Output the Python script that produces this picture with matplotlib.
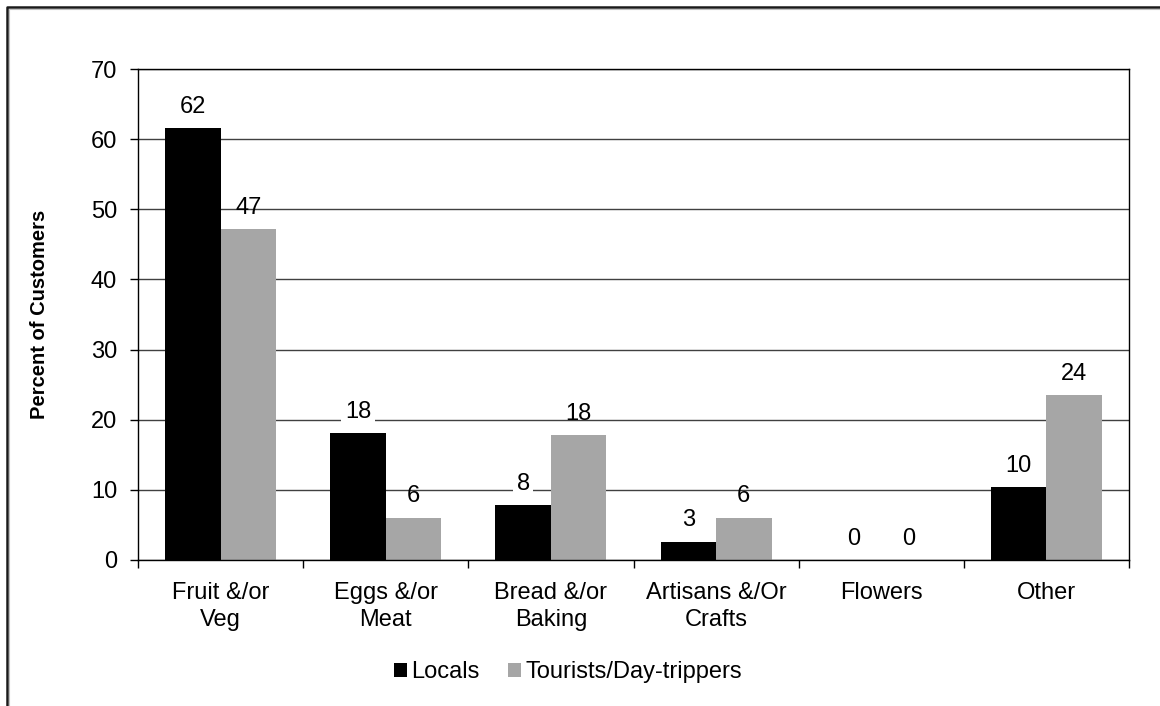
# 농산물 시장 고객 구매 품목 막대그래프 (Locals vs Tourists)
import numpy as np
import matplotlib
matplotlib.use('Agg')
import matplotlib.pyplot as plt
from matplotlib.lines import Line2D
from matplotlib.patches import Patch

plt.rcParams['font.family'] = ['Liberation Sans', 'DejaVu Sans']

# 데이터
categories = ['Fruit &/or\nVeg', 'Eggs &/or\nMeat', 'Bread &/or\nBaking',
              'Artisans &/Or\nCrafts', 'Flowers', 'Other']
locals_vals = [61.6, 18.1, 7.8, 2.6, 0.0, 10.4]
tourists_vals = [47.2, 6.0, 17.8, 6.0, 0.0, 23.5]
series_names = ['Locals', 'Tourists/Day-trippers']
y_ticks = [0, 10, 20, 30, 40, 50, 60, 70]

c_locals = '#000000'
c_tourists = '#A6A6A6'
fs = 17

fig = plt.figure(figsize=(11.6, 7.06), dpi=100)
ax = fig.add_axes([138 / 1160, 1 - 560 / 706, (1129 - 138) / 1160, (560 - 69) / 706])

x = np.arange(len(categories))
w = 0.336
ax.bar(x - w / 2, locals_vals, w, color=c_locals, zorder=2)
ax.bar(x + w / 2, tourists_vals, w, color=c_tourists, zorder=2)

# 데이터 라벨 (Locals 는 흰 배경)
for xi, v in zip(x, locals_vals):
    ax.annotate(str(int(v + 0.5)), xy=(xi - w / 2, v), xytext=(0, 7.5),
                textcoords='offset points', ha='center', va='bottom',
                fontsize=fs, zorder=5,
                bbox=dict(facecolor='white', edgecolor='none', boxstyle='square,pad=0.15'))
for xi, v in zip(x, tourists_vals):
    ax.annotate(str(int(v + 0.5)), xy=(xi + w / 2, v), xytext=(0, 7.5),
                textcoords='offset points', ha='center', va='bottom',
                fontsize=fs, zorder=5)

ax.set_xlim(-0.5, len(categories) - 0.5)
ax.set_ylim(0, 70)
ax.set_yticks(y_ticks)
ax.set_yticklabels([str(t) for t in y_ticks], fontsize=fs)
ax.tick_params(axis='y', length=6, width=1, pad=9, direction='out')

# x 축: 경계에 눈금, 가운데에 라벨
ax.set_xticks(np.arange(len(categories) + 1) - 0.5)
ax.set_xticklabels([])
ax.tick_params(axis='x', which='major', length=6, width=1, direction='out')
ax.set_xticks(x, minor=True)
ax.set_xticklabels(categories, minor=True, fontsize=fs, linespacing=1.3)
ax.tick_params(axis='x', which='minor', length=0, pad=16)

ax.yaxis.grid(True, color='#404040', linewidth=1)
ax.set_axisbelow(True)
for s in ax.spines.values():
    s.set_color('#000000')
    s.set_linewidth(1)

fig.text(40 / 1160, 0.5 * ((1 - 560 / 706) + (1 - 69 / 706)), 'Percent of Customers',
         rotation=90, ha='center', va='center', fontsize=14.5, fontweight='bold')

handles = [Patch(facecolor=c_locals), Patch(facecolor=c_tourists)]
fig.legend(handles, series_names, loc='center', bbox_to_anchor=(568 / 1160, 1 - 672 / 706),
           ncol=2, frameon=False, fontsize=fs, handlelength=0.55, handleheight=0.55,
           handletextpad=0.2, columnspacing=1.2)

# 바깥 테두리 (왼쪽, 위쪽)
fy = 1 - 7 / 706
fx = 7 / 1160
fig.add_artist(Line2D([fx, fx, 1], [0, fy, fy], transform=fig.transFigure,
                      color='#1a1a1a', linewidth=1.8))
fig.add_artist(Line2D([fx + 2 / 1160, fx + 2 / 1160, 1], [0, fy - 2 / 706, fy - 2 / 706],
                      transform=fig.transFigure, color='#c0c0c0', linewidth=0.8))

fig.savefig('out.png', dpi=100)
